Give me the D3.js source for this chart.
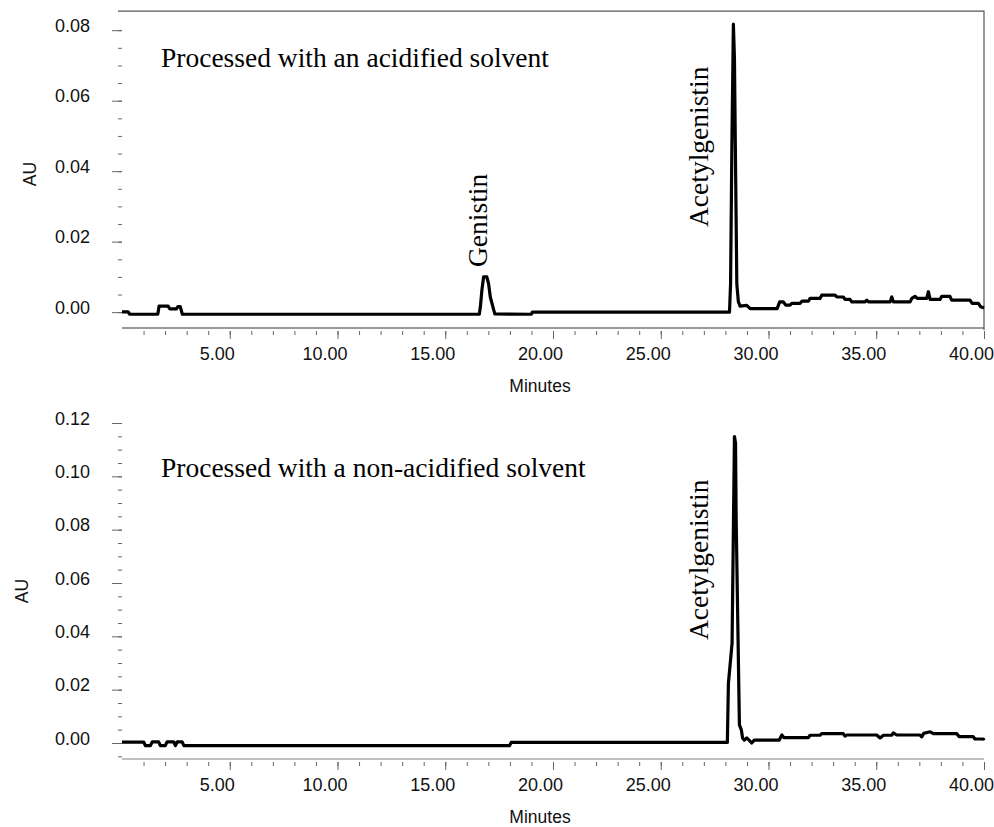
<!DOCTYPE html>
<html lang="en">
<head>
<meta charset="UTF-8" />
<title>Genistin chromatograms</title>
<script src="https://d3js.org/d3.v7.min.js"></script>
<style>
  body { margin: 0; background: #fff; }
  svg { display: block; background: #fff; }
  .axis text { font-family: Arial, "Liberation Sans", sans-serif; font-size: 18px; fill: #111; }
  .axis line { stroke: #666; stroke-width: 1; }
  .axis-title { font-family: Arial, "Liberation Sans", sans-serif; font-size: 17.5px; fill: #111; }
  .note { font-family: "Times New Roman", "Liberation Serif", serif; font-size: 27.5px; fill: #000; }
  .trace { fill: none; stroke: #000; stroke-width: 3.2; stroke-linejoin: round; }
</style>
</head>
<body>
<svg width="994" height="827"></svg>
<script>
// upper chromatogram: acidified solvent
const acidTime = [0.00, 0.28, 0.36, 1.66, 1.72, 2.14, 2.22, 2.52, 2.60, 2.70, 2.80,
  16.58, 16.63, 16.70, 16.78, 16.93, 17.01, 17.09, 17.19, 17.30, 19.00, 19.04,
  28.19, 28.24, 28.30, 28.37, 28.42, 28.46, 28.53, 28.60, 28.68, 28.99, 29.15,
  30.40, 30.52, 30.69, 30.80, 31.00, 31.08, 31.47, 31.55, 31.85, 31.93, 32.39,
  32.47, 33.09, 33.17, 33.47, 33.55, 33.78, 33.86, 34.48, 34.56, 34.64, 35.64,
  35.72, 35.80, 36.57, 36.65, 36.80, 36.90, 37.34, 37.42, 37.50, 37.96, 38.04,
  38.42, 38.50, 39.35, 39.45, 39.74, 39.85, 40.00];
const acidAU = [0.0001, 0.0001, -0.0006, -0.0006, 0.0017, 0.0017, 0.0009, 0.0009, 0.0016, 0.0016, -0.0006,
  -0.0006, 0.0015, 0.0062, 0.0100, 0.0100, 0.0081, 0.0043, 0.0020, -0.0005, -0.0006, 0.0000,
  0.0000, 0.0080, 0.0470, 0.0817, 0.0720, 0.0480, 0.0080, 0.0030, 0.0017, 0.0019, 0.0010,
  0.0010, 0.0029, 0.0029, 0.0020, 0.0020, 0.0025, 0.0025, 0.0031, 0.0031, 0.0039, 0.0039,
  0.0048, 0.0048, 0.0043, 0.0043, 0.0036, 0.0036, 0.0029, 0.0029, 0.0034, 0.0029, 0.0029,
  0.0043, 0.0029, 0.0029, 0.0039, 0.0045, 0.0039, 0.0039, 0.0058, 0.0036, 0.0036, 0.0045,
  0.0045, 0.0034, 0.0034, 0.0025, 0.0025, 0.0015, 0.0012];

// lower chromatogram: non-acidified solvent
const plainTime = [0.00, 1.01, 1.09, 1.32, 1.40, 1.70, 1.78, 2.01, 2.09, 2.40, 2.48,
  2.56, 2.79, 2.87, 17.98, 18.06, 28.09, 28.14, 28.31, 28.42, 28.47, 28.50,
  28.59, 28.65, 28.74, 28.80, 28.88, 28.99, 29.10, 29.22, 29.34, 30.50, 30.62,
  30.72, 31.85, 31.93, 32.39, 32.47, 33.47, 33.55, 33.63, 35.02, 35.18, 35.33,
  35.72, 35.79, 35.95, 37.03, 37.11, 37.20, 37.50, 37.65, 38.73, 38.85, 39.50,
  39.58, 39.97, 40.00];
const plainAU = [0.0003, 0.0003, -0.0010, -0.0010, 0.0004, 0.0004, -0.0010, -0.0010, 0.0004, 0.0004, -0.0010,
  0.0004, 0.0004, -0.0010, -0.0010, 0.0002, 0.0002, 0.0224, 0.0374, 0.1149, 0.1125, 0.0836,
  0.0375, 0.0068, 0.0049, 0.0018, 0.0011, 0.0019, 0.0011, 0.0000, 0.0011, 0.0011, 0.0030,
  0.0020, 0.0020, 0.0029, 0.0029, 0.0035, 0.0035, 0.0026, 0.0030, 0.0030, 0.0019, 0.0029,
  0.0029, 0.0038, 0.0030, 0.0030, 0.0023, 0.0036, 0.0042, 0.0035, 0.0035, 0.0024, 0.0024,
  0.0015, 0.0015, 0.0010];

const timeTicks = [5, 10, 15, 20, 25, 30, 35, 40];
const acidAUTicks = [0, 0.02, 0.04, 0.06, 0.08];
const plainAUTicks = [0, 0.02, 0.04, 0.06, 0.08, 0.10, 0.12];
const acidPeakNames = ["Genistin", "Acetylgenistin"];
const plainPeakNames = ["Acetylgenistin"];

const svg = d3.select("svg");

function drawPanel(opt) {
  const g = svg.append("g");
  const x = d3.scaleLinear().domain([0, 40]).range([122, 984]);
  const y = d3.scaleLinear().domain(opt.yDomain).range(opt.yRange);
  const axisY = y.range()[0];

  // baseline of the time axis
  g.append("line")
    .attr("x1", x(0)).attr("x2", x(40))
    .attr("y1", axisY).attr("y2", axisY)
    .attr("stroke", opt.axisColor).attr("stroke-width", 1.4);

  // minute ticks
  const minor = g.append("g").attr("class", "axis")
    .attr("transform", `translate(0,${axisY + 3})`)
    .call(d3.axisBottom(x).tickValues(d3.range(1, 40)).tickSize(4).tickFormat(""));
  minor.select(".domain").remove();

  const major = g.append("g").attr("class", "axis")
    .attr("transform", `translate(0,${axisY + 3})`)
    .call(d3.axisBottom(x).tickValues(timeTicks).tickSize(8).tickFormat(d3.format(".2f")));
  major.select(".domain").remove();
  major.selectAll("text").attr("y", 29).attr("dy", 0).attr("dx", -13);

  // AU ticks
  const yMinor = g.append("g").attr("class", "axis")
    .attr("transform", "translate(122,0)")
    .call(d3.axisLeft(y).tickValues(d3.range(opt.minorFrom, opt.yTicks[opt.yTicks.length - 1] + 0.001, 0.005))
      .tickSize(4).tickFormat(""));
  yMinor.select(".domain").remove();

  const yMajor = g.append("g").attr("class", "axis")
    .attr("transform", "translate(122,0)")
    .call(d3.axisLeft(y).tickValues(opt.yTicks).tickSize(10).tickFormat(d3.format(".2f")));
  yMajor.select(".domain").remove();
  yMajor.selectAll("text").attr("x", -32).attr("dy", 1);

  g.append("text").attr("class", "axis-title")
    .attr("transform", `translate(${opt.auX},${opt.auY}) rotate(-90)`)
    .attr("text-anchor", "middle").text("AU");

  g.append("text").attr("class", "axis-title")
    .attr("x", 540).attr("y", axisY + 64)
    .attr("text-anchor", "middle").text("Minutes");

  if (opt.frame) {
    const top = y(opt.frame);
    g.append("path")
      .attr("d", `M${x(0) - 4},${top}H${x(40)}V${axisY + 2}`)
      .attr("fill", "none").attr("stroke", "#555").attr("stroke-width", 1.2);
  }

  const pts = opt.time.map((t, i) => [t, opt.au[i]]);
  g.append("path")
    .datum(pts)
    .attr("class", "trace")
    .attr("d", d3.line().x(d => x(d[0])).y(d => y(d[1])));

  g.append("text").attr("class", "note")
    .attr("x", 161).attr("y", opt.titleY).text(opt.title);

  opt.labels.forEach(l => {
    g.append("text").attr("class", "note")
      .attr("transform", `translate(${l.x},${l.y}) rotate(-90)`)
      .text(l.name);
  });
}

drawPanel({
  time: acidTime, au: acidAU,
  yDomain: [-0.0045, 0.08], yRange: [328, 30.2],
  yTicks: acidAUTicks, minorFrom: 0, frame: 0.0854,
  axisColor: "#777", auX: 36, auY: 174,
  title: "Processed with an acidified solvent", titleY: 67,
  labels: [{ name: acidPeakNames[0], x: 487, y: 267 },
           { name: acidPeakNames[1], x: 708, y: 227 }]
});

drawPanel({
  time: plainTime, au: plainAU,
  yDomain: [-0.006, 0.12], yRange: [759, 423],
  yTicks: plainAUTicks, minorFrom: -0.005, frame: null,
  axisColor: "#aaa", auX: 28, auY: 591,
  title: "Processed with a non-acidified solvent", titleY: 477,
  labels: [{ name: plainPeakNames[0], x: 708, y: 640 }]
});
</script>
</body>
</html>
